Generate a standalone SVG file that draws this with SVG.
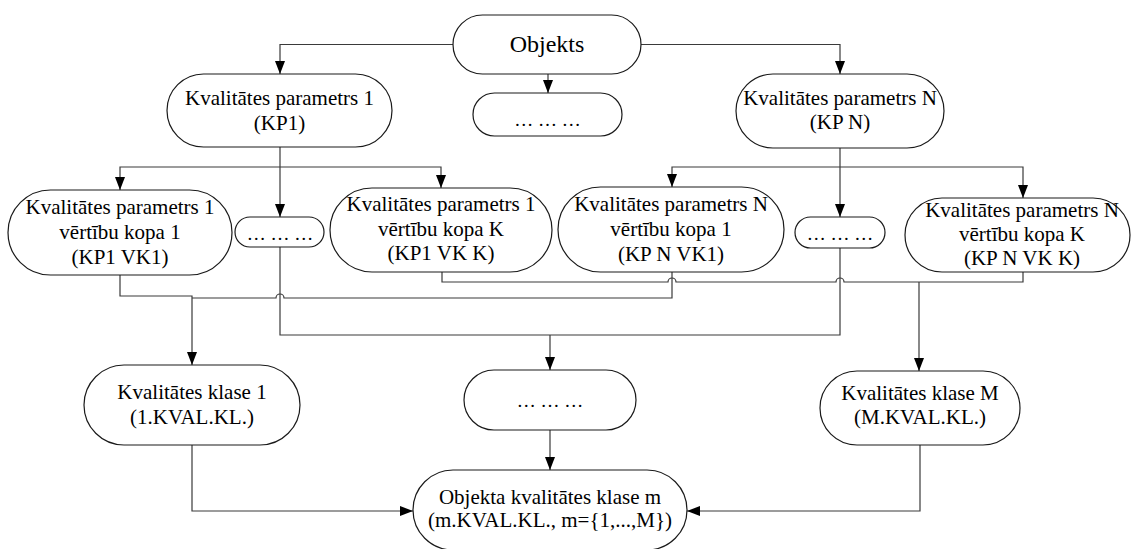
<svg xmlns="http://www.w3.org/2000/svg" width="1132" height="549" viewBox="0 0 1132 549">
  <style>
    .node rect { fill: #ffffff; stroke: #1a1a1a; stroke-width: 1.2; }
    .node text { font-family: "Liberation Serif", "Times New Roman", serif; font-size: 21px; fill: #000000; text-anchor: middle; }
    .node text.big { font-size: 24px; }
    .node text.dots { font-size: 19px; }
    .wire { fill: none; stroke: #3a3a3a; stroke-width: 1.2; }
    .arrow { marker-end: url(#head); }
  </style>
  <defs>
    <marker id="head" markerUnits="userSpaceOnUse" markerWidth="13" markerHeight="10" viewBox="0 0 13 10" refX="13" refY="5" orient="auto">
      <path d="M0,0 L13,5 L0,10 Z" fill="#000000"/>
    </marker>
  </defs>
  <rect width="1132" height="549" fill="#ffffff"/>

  <!-- connectors -->
  <g id="connectors">
    <path class="wire arrow" d="M453,44.5 H280 V74"/>
    <path class="wire arrow" d="M548,74 V93"/>
    <path class="wire arrow" d="M641,44.5 H840 V74"/>

    <path class="wire arrow" d="M280,147 V217"/>
    <path class="wire arrow" d="M280,167 H120 V190"/>
    <path class="wire arrow" d="M280,167 H441 V188"/>

    <path class="wire arrow" d="M840,148 V217"/>
    <path class="wire arrow" d="M840,167 H672 V187"/>
    <path class="wire arrow" d="M840,167 H1023 V198"/>

    <!-- value sets to class 1 -->
    <path class="wire arrow" d="M120,275 V296 H192 V365"/>
    <path class="wire" d="M192,298 H276 A4,4 0 0 1 284,298 H672 V272"/>

    <!-- value sets to class M -->
    <path class="wire" d="M442,272 V282 H668 A4,4 0 0 1 676,282 H836 A4,4 0 0 1 844,282 H1023 V272"/>
    <path class="wire arrow" d="M919,282 V371"/>

    <!-- intermediate sets to middle class -->
    <path class="wire" d="M280,247 V335 H840 V247"/>
    <path class="wire arrow" d="M550,335 V370"/>

    <!-- classes to object class -->
    <path class="wire arrow" d="M550,430 V470"/>
    <path class="wire arrow" d="M192,445 V511 H413"/>
    <path class="wire arrow" d="M920,445 V511 H687"/>
  </g>

  <!-- nodes -->
  <g id="objekts" class="node">
    <rect x="453" y="15" width="188" height="59" rx="29.5"/>
    <text class="big" x="547" y="52">Objekts</text>
  </g>
  <g id="kp-dots" class="node">
    <rect x="473" y="93" width="149" height="43" rx="21.5"/>
    <text class="dots" x="547.5" y="126">… … …</text>
  </g>
  <g id="kp1" class="node">
    <rect x="167" y="74" width="225" height="73" rx="36.5"/>
    <text x="279.5" y="105">Kvalitātes parametrs 1</text>
    <text x="279.5" y="130">(KP1)</text>
  </g>
  <g id="kpn" class="node">
    <rect x="736" y="74" width="208" height="74" rx="37"/>
    <text x="840" y="105">Kvalitātes parametrs N</text>
    <text x="840" y="129">(KP N)</text>
  </g>

  <g id="kp1-vk1" class="node">
    <rect x="8" y="190" width="224" height="85" rx="42.5"/>
    <text x="120" y="214">Kvalitātes parametrs 1</text>
    <text x="120" y="239">vērtību kopa 1</text>
    <text x="120" y="264">(KP1 VK1)</text>
  </g>
  <g id="kp1-dots" class="node">
    <rect x="235" y="217" width="89" height="30" rx="15"/>
    <text class="dots" x="280" y="240">… … …</text>
  </g>
  <g id="kp1-vkk" class="node">
    <rect x="330" y="188" width="222" height="84" rx="42"/>
    <text x="441" y="211">Kvalitātes parametrs 1</text>
    <text x="441" y="236">vērtību kopa K</text>
    <text x="441" y="260">(KP1 VK K)</text>
  </g>
  <g id="kpn-vk1" class="node">
    <rect x="558" y="187" width="226" height="85" rx="42.5"/>
    <text x="671" y="211">Kvalitātes parametrs N</text>
    <text x="671" y="236">vērtību kopa 1</text>
    <text x="671" y="261">(KP N VK1)</text>
  </g>
  <g id="kpn-dots" class="node">
    <rect x="795" y="217" width="90" height="31" rx="15.5"/>
    <text class="dots" x="840" y="240">… … …</text>
  </g>
  <g id="kpn-vkk" class="node">
    <rect x="905" y="198" width="225" height="74" rx="37"/>
    <text x="1022" y="217">Kvalitātes parametrs N</text>
    <text x="1022" y="241">vērtību kopa K</text>
    <text x="1022" y="265">(KP N VK K)</text>
  </g>

  <g id="klase-1" class="node">
    <rect x="84" y="365" width="216" height="80" rx="40"/>
    <text x="192" y="399">Kvalitātes klase 1</text>
    <text x="192" y="424">(1.KVAL.KL.)</text>
  </g>
  <g id="klase-dots" class="node">
    <rect x="464" y="370" width="172" height="60" rx="30"/>
    <text class="dots" x="550" y="407">… … …</text>
  </g>
  <g id="klase-m-upper" class="node">
    <rect x="820" y="371" width="200" height="74" rx="37"/>
    <text x="920" y="400">Kvalitātes klase M</text>
    <text x="920" y="424">(M.KVAL.KL.)</text>
  </g>

  <g id="objekta-klase" class="node">
    <rect x="413" y="470" width="274" height="80" rx="40"/>
    <text x="550" y="504">Objekta kvalitātes klase m</text>
    <text x="550" y="527">(m.KVAL.KL., m={1,...,M})</text>
  </g>
</svg>
